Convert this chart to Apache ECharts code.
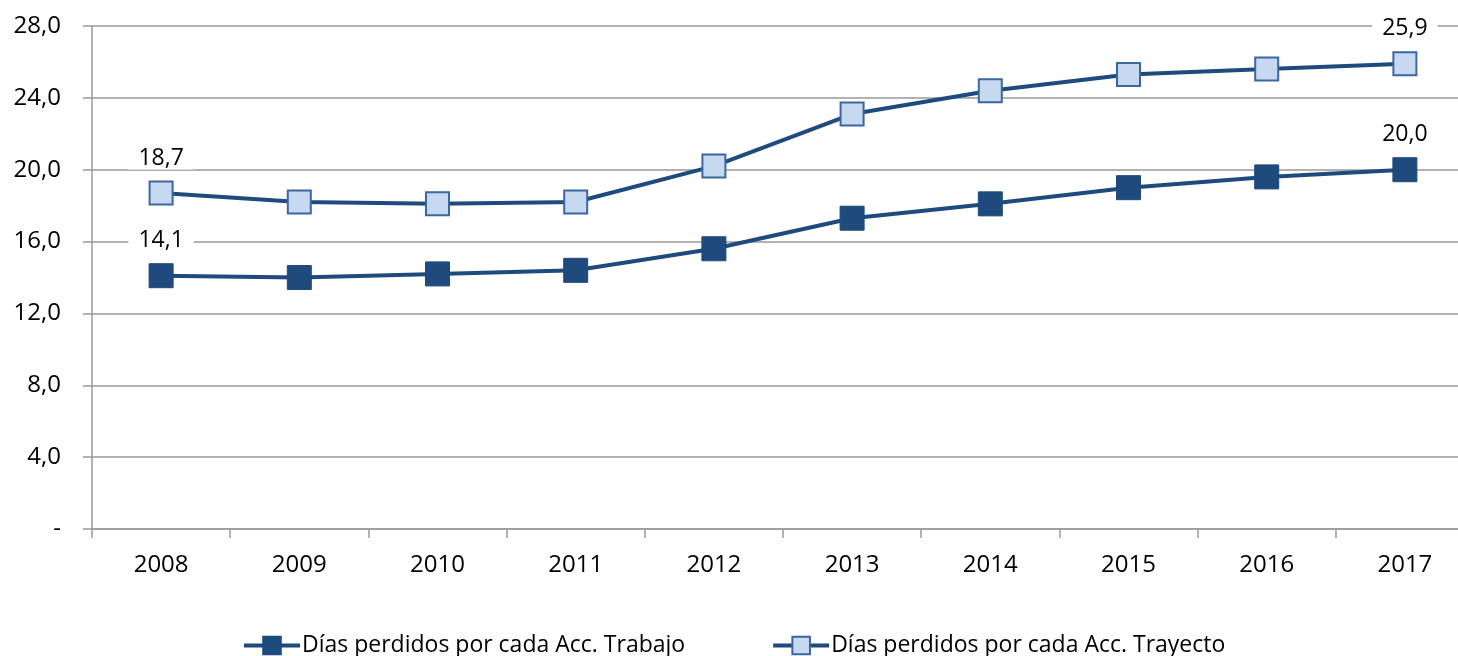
<!DOCTYPE html>
<html>
<head>
<meta charset="utf-8">
<script src="https://cdn.jsdelivr.net/npm/echarts@6/dist/echarts.min.js"></script>
<style>
  html, body { margin: 0; padding: 0; background: #fff; overflow: hidden; }
  #chart { width: 1474px; height: 656px; }
</style>
</head>
<body>
<div id="chart"></div>
<script>
  const years = ['2008', '2009', '2010', '2011', '2012', '2013', '2014', '2015', '2016', '2017']
  const trabajo = [14.1, 14.0, 14.2, 14.4, 15.6, 17.3, 18.1, 19.0, 19.6, 20.0]
  const trayecto = [18.7, 18.2, 18.1, 18.2, 20.2, 23.1, 24.4, 25.3, 25.6, 25.9]
  const seriesNames = ['Días perdidos por cada Acc. Trabajo', 'Días perdidos por cada Acc. Trayecto']

  const fontFamily = 'Open Sans'
  const fmt = v => v.toFixed(1).replace('.', ',')

  // only first and last points carry a label
  function endLabels(values) {
    return values.map((v, i) => {
      if (i === 0 || i === values.length - 1) {
        return {value: v, label: {show: true}}
      }
      return v
    })
  }

  const endLabel = {
    show: false,
    position: 'top',
    distance: 11,
    color: '#000',
    fontSize: 23,
    fontFamily: fontFamily,
    backgroundColor: '#fff',
    padding: [0, 10],
    formatter: p => fmt(p.value)
  }

  // the plot runs past the right edge of the 1458px window, like the original
  const chart = echarts.init(document.getElementById('chart'))
  const option = {
    animation: false,
    textStyle: {fontFamily: fontFamily},
    grid: {
      left: 92,
      right: 0,
      top: 26,
      bottom: 127
    },
    legend: {
      top: 629,
      left: 237,
      itemGap: 86,
      itemWidth: 56,
      itemHeight: 22,
      lineStyle: {width: 4},
      textStyle: {fontSize: 23, color: '#000', fontFamily: fontFamily, padding: [0, 0, 0, -3]},
      data: seriesNames
    },
    xAxis: {
      type: 'category',
      data: years,
      boundaryGap: true,
      axisLine: {lineStyle: {color: '#999', width: 1.5}},
      axisTick: {show: true, length: 9, lineStyle: {color: '#999', width: 1.5}},
      axisLabel: {fontSize: 24, color: '#000', margin: 24}
    },
    yAxis: {
      type: 'value',
      min: 0,
      max: 28,
      interval: 4,
      axisLine: {show: true, lineStyle: {color: '#999', width: 1.5}},
      axisTick: {show: true, length: 9, lineStyle: {color: '#999', width: 1.5}},
      splitLine: {lineStyle: {color: '#999', width: 1.5}},
      axisLabel: {
        fontSize: 24,
        color: '#000',
        margin: 31,
        formatter: v => v === 0 ? '-' : fmt(v)
      }
    },
    series: [
      {
        name: seriesNames[0],
        type: 'line',
        data: endLabels(trabajo),
        symbol: 'rect',
        symbolSize: 24,
        lineStyle: {color: '#1f4a7d', width: 4},
        itemStyle: {color: '#1f4a7d', borderColor: '#1f4a7d', borderWidth: 1},
        label: endLabel,
        z: 3
      },
      {
        name: seriesNames[1],
        type: 'line',
        data: endLabels(trayecto),
        symbol: 'rect',
        symbolSize: 23,
        lineStyle: {color: '#1f4a7d', width: 4},
        itemStyle: {color: '#c6d9f1', borderColor: '#3b67a0', borderWidth: 2},
        label: endLabel,
        z: 2
      }
    ]
  }
  chart.setOption(option)
</script>
</body>
</html>
